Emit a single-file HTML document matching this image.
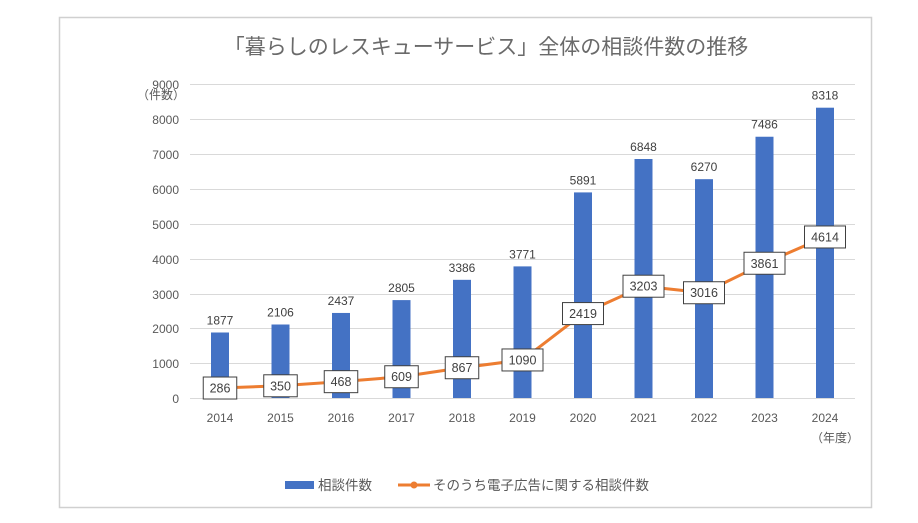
<!DOCTYPE html>
<html><head><meta charset="utf-8"><style>
body{margin:0;background:#fff;}
svg text{font-family:"Liberation Sans","Noto Sans CJK JP",sans-serif;}
</style></head><body>
<svg width="918" height="518" xmlns="http://www.w3.org/2000/svg">
<rect x="0" y="0" width="918" height="518" fill="#fff"/>
<rect x="59.5" y="17.5" width="812" height="490" fill="#fff" stroke="#d0d0d0" stroke-width="1.5"/>
<text x="486" y="54" font-size="21" fill="#6a6a6a" text-anchor="middle">「暮らしのレスキューサービス」全体の相談件数の推移</text>
<g stroke="#d9d9d9" stroke-width="1">
<line x1="190" x2="855" y1="84.5" y2="84.5"/><line x1="190" x2="855" y1="119.5" y2="119.5"/>
<line x1="190" x2="855" y1="154.5" y2="154.5"/><line x1="190" x2="855" y1="189.5" y2="189.5"/>
<line x1="190" x2="855" y1="224.5" y2="224.5"/><line x1="190" x2="855" y1="259.5" y2="259.5"/>
<line x1="190" x2="855" y1="294.5" y2="294.5"/><line x1="190" x2="855" y1="328.5" y2="328.5"/>
<line x1="190" x2="855" y1="363.5" y2="363.5"/><line x1="190" x2="855" y1="398.5" y2="398.5"/>
</g>
<g font-size="12" fill="#595959" text-anchor="end">
<text x="179" y="89">9000</text><text x="179" y="124">8000</text><text x="179" y="159">7000</text>
<text x="179" y="194">6000</text><text x="179" y="229">5000</text><text x="179" y="264">4000</text>
<text x="179" y="299">3000</text><text x="179" y="333">2000</text><text x="179" y="368">1000</text>
<text x="179" y="403">0</text>
</g>
<text x="137" y="99" font-size="12" fill="#595959">（件数）</text>
<g fill="#4472c4" id="bars"></g>
<g id="lbl" font-size="12" fill="#404040" text-anchor="middle"></g>
<g id="xl" font-size="12" fill="#595959" text-anchor="middle"></g>
<text x="835" y="442" font-size="12" fill="#595959" text-anchor="middle">（年度）</text>
<polyline id="ln" fill="none" stroke="#ed7d31" stroke-width="3" stroke-linejoin="round"/>
<g id="boxes" font-size="12.5" fill="#404040" text-anchor="middle"></g>
<rect x="285" y="481" width="29" height="8" fill="#4472c4"/>
<text x="318" y="490" font-size="13.5" fill="#595959">相談件数</text>
<line x1="398" x2="430" y1="485" y2="485" stroke="#ed7d31" stroke-width="3"/>
<circle cx="414" cy="485" r="3.5" fill="#ed7d31"/>
<text x="433" y="490" font-size="13.5" fill="#595959">そのうち電子広告に関する相談件数</text>
</svg>
<script>
var ns="http://www.w3.org/2000/svg";
var b=[1877,2106,2437,2805,3386,3771,5891,6848,6270,7486,8318];
var l=[286,350,468,609,867,1090,2419,3203,3016,3861,4614];
function y(v){return 398-v*34.9/1000;}
function el(t,a,p,txt){var e=document.createElementNS(ns,t);for(var k in a)e.setAttribute(k,a[k]);if(txt!=null)e.textContent=txt;document.getElementById(p).appendChild(e);}
var pts=[];
for(var i=0;i<11;i++){var x=220+i*60.5;
el("rect",{x:x-9,y:y(b[i]),width:18,height:398-y(b[i])},"bars");
el("text",{x:x,y:y(b[i])-8},"lbl",b[i]);
el("text",{x:x,y:422},"xl",2014+i);
pts.push(x+","+y(l[i]));}
document.getElementById("ln").setAttribute("points",pts.join(" "));
for(var i=0;i<11;i++){var x=220+i*60.5,s=String(l[i]),w=s.length*7.5+11;
el("rect",{x:x-w/2,y:y(l[i])-11,width:w,height:22,fill:"#fff",stroke:"#404040","stroke-width":1},"boxes");
el("text",{x:x,y:y(l[i])+4.5},"boxes",s);}
</script>
</body></html>
